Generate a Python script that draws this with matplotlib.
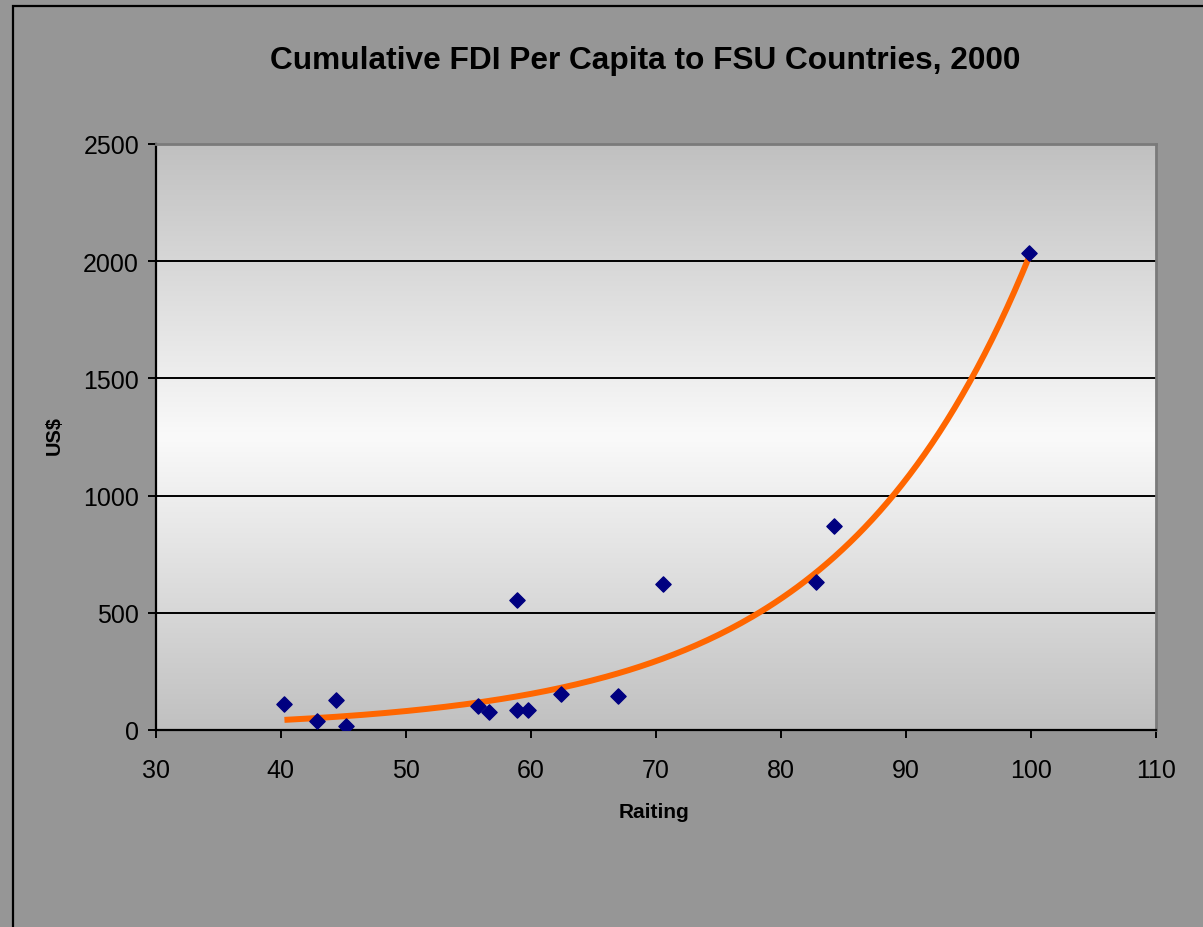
import numpy as np
import matplotlib
matplotlib.use("Agg")
import matplotlib.pyplot as plt
from matplotlib.patches import Rectangle
from matplotlib.colors import LinearSegmentedColormap

# Data
rating = [40.3, 42.9, 44.4, 45.2, 55.8, 56.7, 58.9, 58.9, 59.8, 62.4, 67.0, 70.6, 82.8, 84.3, 99.9]
fdi_per_capita = [111, 40, 128, 16, 104, 76, 555, 85, 85, 152, 145, 624, 633, 872, 2035]
x_ticks = [30, 40, 50, 60, 70, 80, 90, 100, 110]
y_ticks = [0, 500, 1000, 1500, 2000, 2500]
title = "Cumulative FDI Per Capita to FSU Countries, 2000"
x_label = "Raiting"
y_label = "US$"

plt.rcParams['font.family'] = ['Liberation Sans', 'DejaVu Sans']

fig = plt.figure(figsize=(12.03, 9.28), dpi=100)
fig.patch.set_facecolor('#969696')
# outer chart border (left/top visible)
fig.patches.append(Rectangle((13/1203, -0.1), 1.2, (1 - 6.5/928) + 0.1,
                             transform=fig.transFigure, fill=False,
                             edgecolor='black', linewidth=1.6, zorder=10))

ax = fig.add_axes([155.7/1203, 1 - 731/928, 1000/1203, (731 - 145)/928])
ax.set_xlim(30, 110)
ax.set_ylim(0, 2500)

# gradient background: gray - white - gray
cmap = LinearSegmentedColormap.from_list('g', ['#c0c0c0', '#fafafa', '#c0c0c0'])
grad = np.linspace(0, 1, 256).reshape(-1, 1)
ax.imshow(grad, cmap=cmap, aspect='auto', extent=[0, 1, 0, 1],
          transform=ax.transAxes, zorder=0, interpolation='bicubic')

for yv in y_ticks[1:-1]:
    ax.axhline(yv, color='black', linewidth=1.4, zorder=1)

# exponential trendline (least squares on log y)
xs = np.array(rating)
ys = np.array(fdi_per_capita)
b, a = np.polyfit(xs, np.log(ys), 1)
xt = np.linspace(xs.min(), xs.max(), 200)
ax.plot(xt, np.exp(a + b * xt), color='#ff6600', linewidth=4.3, zorder=3,
        solid_capstyle='butt')

ax.scatter(rating, fdi_per_capita, marker='D', s=60, color='#000080',
           edgecolors='#000080', zorder=4)

ax.set_xticks(x_ticks)
ax.set_yticks(y_ticks)
ax.tick_params(axis='both', direction='out', length=6, width=1.4,
               color='black', labelsize=18, labelcolor='black')
ax.tick_params(axis='x', pad=14)
ax.tick_params(axis='y', pad=6)

for side in ['left', 'bottom']:
    ax.spines[side].set_color('black')
    ax.spines[side].set_linewidth(1.6)
for side in ['top', 'right']:
    ax.spines[side].set_color('#7a7a7a')
    ax.spines[side].set_linewidth(2.0)

fig.text(645/1203, 1 - 61/928, title, ha='center', va='center',
         fontsize=22.8, fontweight='bold')
fig.text(654/1203, 1 - 813/928, x_label, ha='center', va='center',
         fontsize=15, fontweight='bold')
fig.text(54/1203, 1 - 436/928, y_label, ha='center', va='center',
         fontsize=14.3, fontweight='bold', rotation=90)

fig.savefig('out.png', dpi=100, facecolor=fig.get_facecolor())
